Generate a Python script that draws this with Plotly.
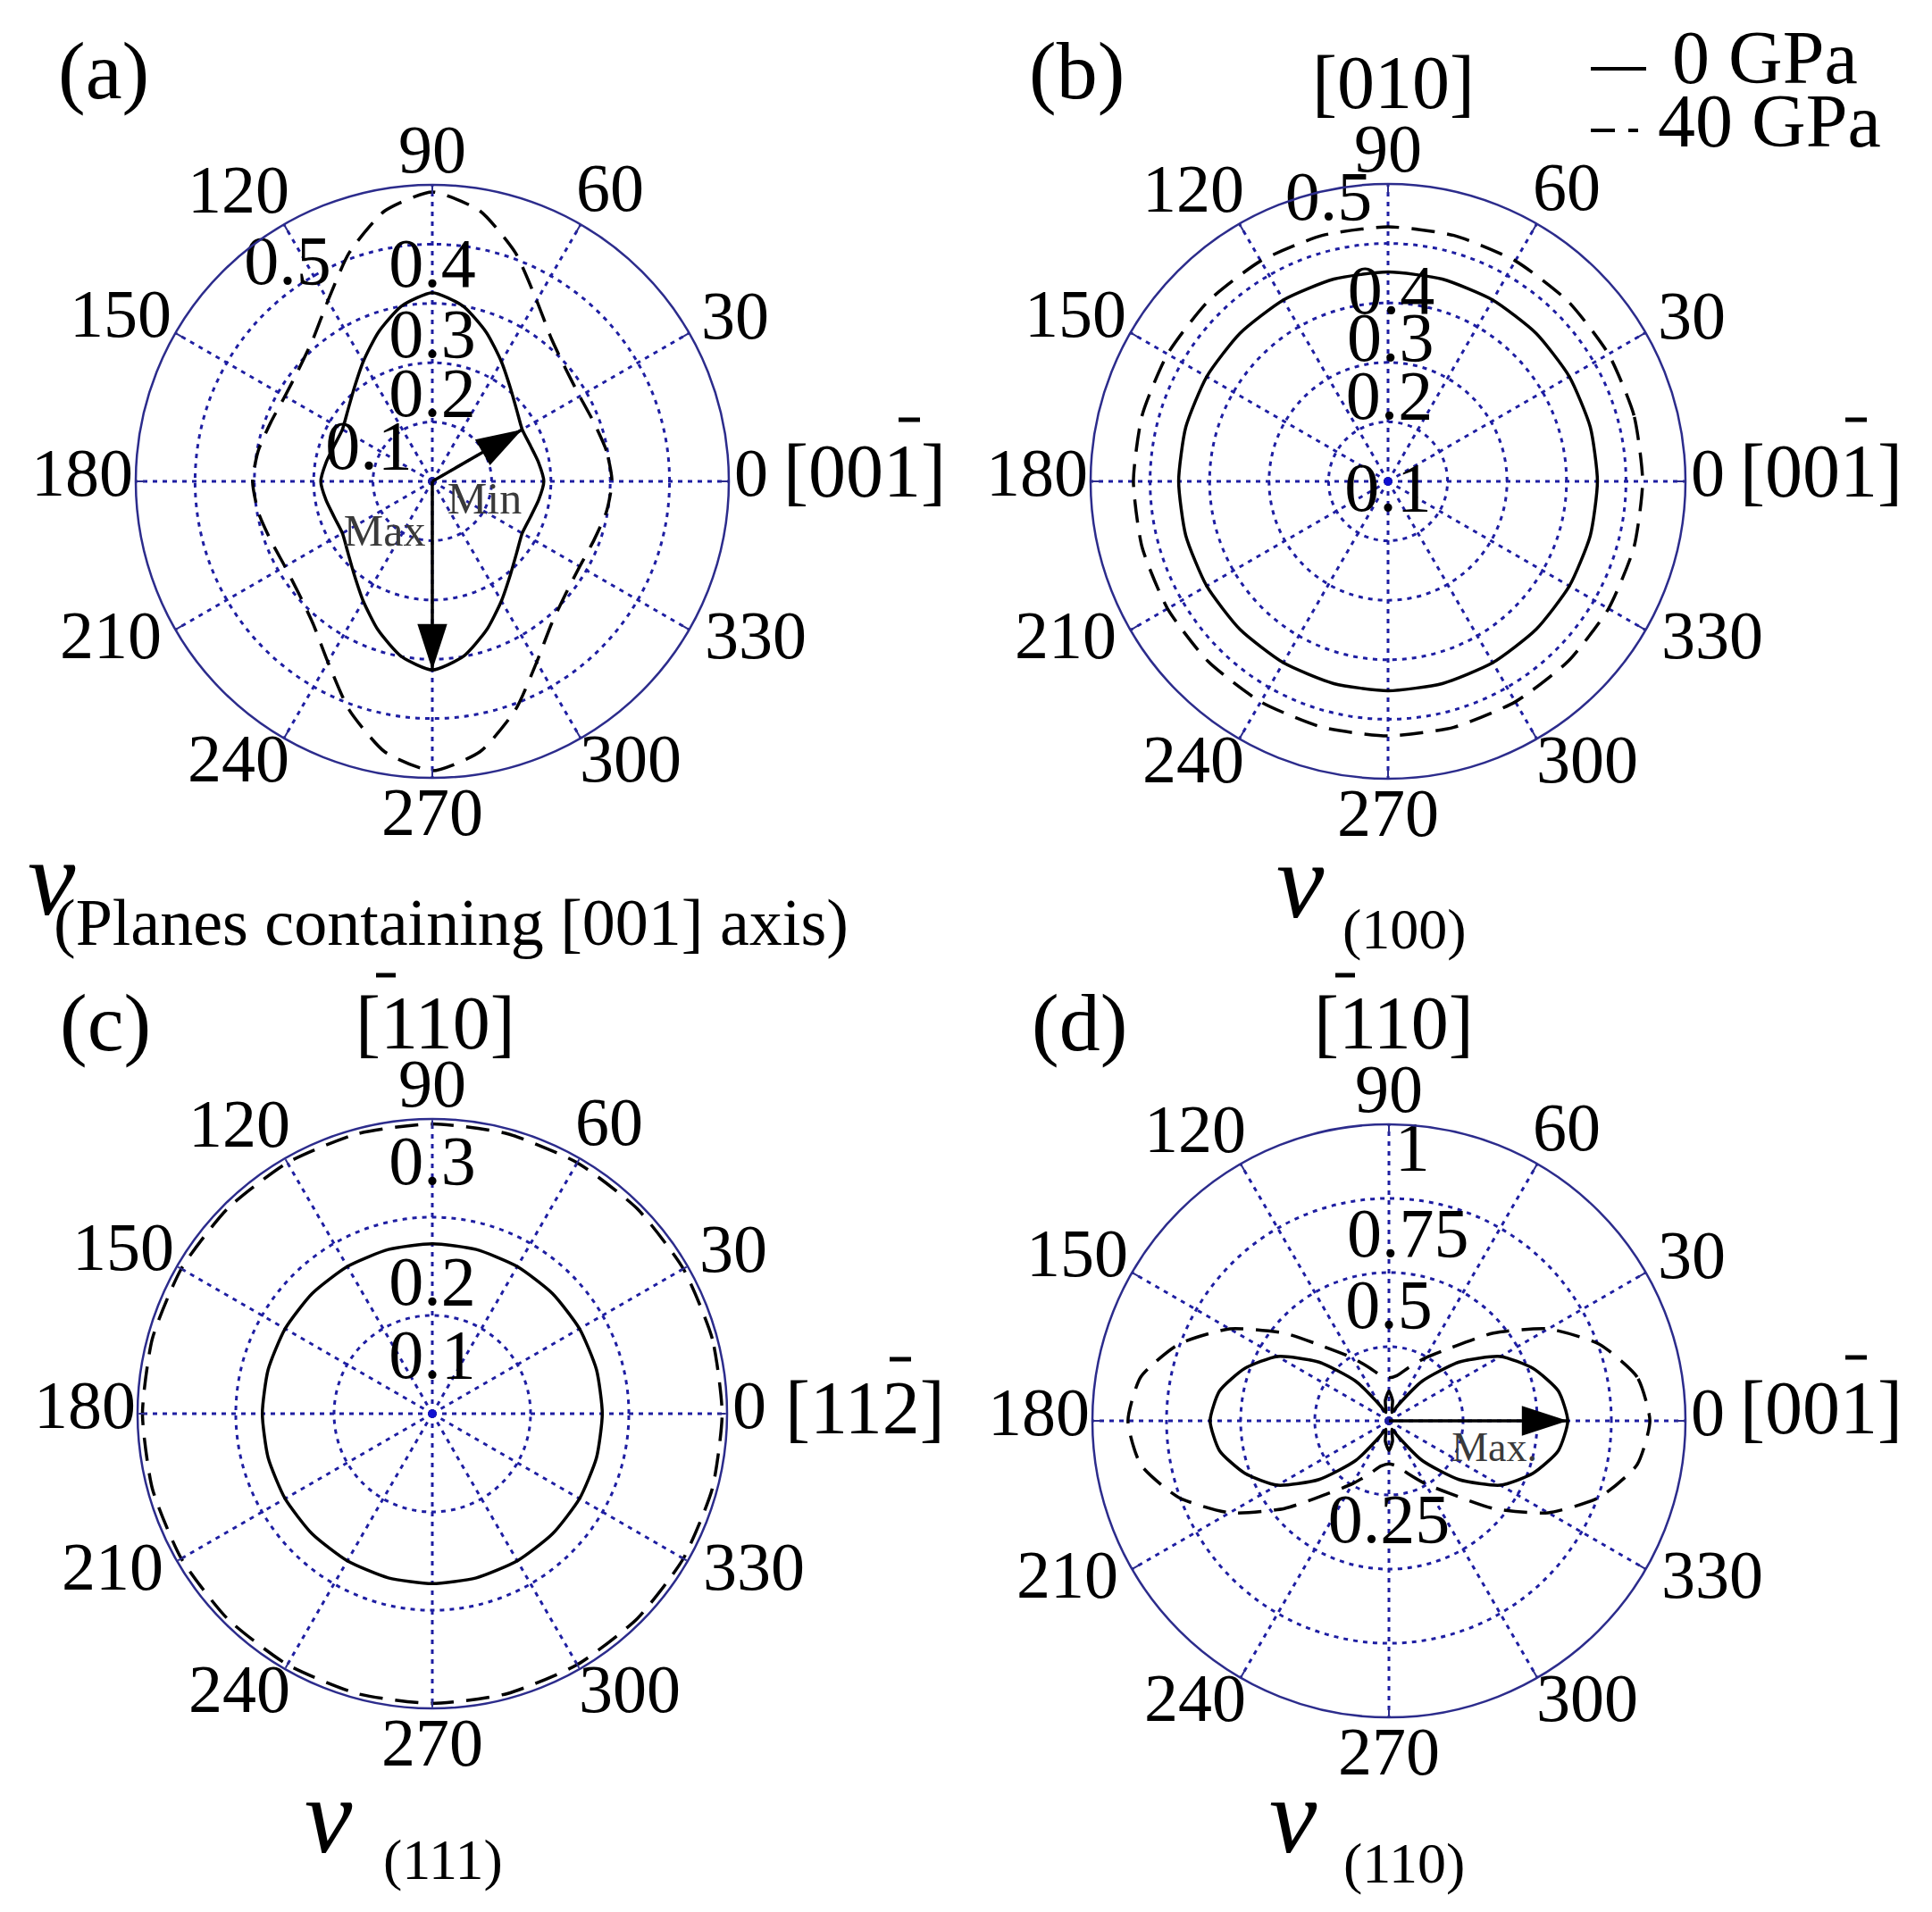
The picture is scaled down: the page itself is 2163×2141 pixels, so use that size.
import plotly.graph_objects as go

W, H = 2163, 2141
SERIF = "Liberation Serif"
GRID = "#1e1ea2"
RIM = "#2c2c8c"

# angular ticks (deg) and MATLAB-style label offsets from the centre (multiples of rim radius)
angle_ticks = [0, 30, 60, 90, 120, 150, 180, 210, 240, 270, 300, 330]
angle_text = ["0", "30", "60", "90", "120", "150", "180", "210", "240", "270", "300", "330"]
angle_label_dx = [1.075, 1.02, 0.60, 0.0, -0.655, -1.05, -1.18, -1.085, -0.655, 0.0, 0.67, 1.09]
angle_label_dy = [0.0, 0.53, 0.96, 1.09, 0.955, 0.535, 0.0, -0.547, -0.963, -1.145, -0.963, -0.547]

theta10 = [0, 10, 20, 30, 40, 50, 60, 70, 80, 90, 100, 110, 120, 130, 140, 150, 160, 170, 180,
           190, 200, 210, 220, 230, 240, 250, 260, 270, 280, 290, 300, 310, 320, 330, 340, 350, 360]
theta15 = [0, 15, 30, 45, 60, 75, 90, 105, 120, 135, 150, 165, 180,
           195, 210, 225, 240, 255, 270, 285, 300, 315, 330, 345, 360]

# (a) planes containing [001] axis
nu_a_0gpa = [0.188, 0.182, 0.176, 0.175, 0.186, 0.205, 0.233, 0.267, 0.300, 0.318,
             0.300, 0.267, 0.233, 0.205, 0.186, 0.175, 0.176, 0.182, 0.188,
             0.182, 0.176, 0.175, 0.186, 0.205, 0.233, 0.267, 0.300, 0.318,
             0.300, 0.267, 0.233, 0.205, 0.186, 0.175, 0.176, 0.182, 0.188]
nu_a_40gpa = [0.303, 0.298, 0.290, 0.287, 0.294, 0.313, 0.352, 0.410, 0.463, 0.488,
              0.463, 0.410, 0.352, 0.313, 0.294, 0.287, 0.290, 0.298, 0.303,
              0.298, 0.290, 0.287, 0.294, 0.313, 0.352, 0.410, 0.463, 0.488,
              0.463, 0.410, 0.352, 0.313, 0.294, 0.287, 0.290, 0.298, 0.303]

# (b) (100) plane
nu_b_0gpa = [0.352, 0.352, 0.352, 0.352, 0.352, 0.352, 0.352, 0.352, 0.352, 0.352, 0.352, 0.352, 0.352,
             0.352, 0.352, 0.352, 0.352, 0.352, 0.352, 0.352, 0.352, 0.352, 0.352, 0.352, 0.352]
nu_b_40gpa = [0.428, 0.428, 0.428, 0.428, 0.428, 0.428, 0.428, 0.428, 0.428, 0.428, 0.428, 0.428, 0.428,
              0.428, 0.428, 0.428, 0.428, 0.428, 0.428, 0.428, 0.428, 0.428, 0.428, 0.428, 0.428]

# (c) (111) plane
nu_c_0gpa = [0.173, 0.173, 0.173, 0.173, 0.173, 0.173, 0.173, 0.173, 0.173, 0.173, 0.173, 0.173, 0.173,
             0.173, 0.173, 0.173, 0.173, 0.173, 0.173, 0.173, 0.173, 0.173, 0.173, 0.173, 0.173]
nu_c_40gpa = [0.295, 0.295, 0.295, 0.295, 0.295, 0.295, 0.295, 0.295, 0.295, 0.295, 0.295, 0.295, 0.295,
              0.295, 0.295, 0.295, 0.295, 0.295, 0.295, 0.295, 0.295, 0.295, 0.295, 0.295, 0.295]

# (d) (110) plane
nu_d_0gpa = [0.603, 0.580, 0.517, 0.434, 0.308, 0.175, 0.060, 0.030, 0.070, 0.100,
             0.070, 0.030, 0.060, 0.175, 0.308, 0.434, 0.517, 0.580, 0.603,
             0.580, 0.517, 0.434, 0.308, 0.175, 0.060, 0.030, 0.070, 0.100,
             0.070, 0.030, 0.060, 0.175, 0.308, 0.434, 0.517, 0.580, 0.603]
nu_d_40gpa = [0.880, 0.850, 0.755, 0.620, 0.460, 0.320, 0.245, 0.190, 0.155, 0.145,
              0.155, 0.190, 0.245, 0.320, 0.460, 0.620, 0.755, 0.850, 0.880,
              0.850, 0.755, 0.620, 0.460, 0.320, 0.245, 0.190, 0.155, 0.145,
              0.155, 0.190, 0.245, 0.320, 0.460, 0.620, 0.755, 0.850, 0.880]

# radial tick labels (text, r, theta) per panel
rlab_a = ["0.1", "0.2", "0.3", "0.4", "0.5"]
rlab_a_r = [0.118, 0.139, 0.238, 0.357, 0.436]
rlab_a_t = [155, 90, 90, 90, 124]
rlab_b = ["0.1", "0.2", "0.3", "0.4", "0.5"]
rlab_b_r = [0.02, 0.135, 0.232, 0.311, 0.48]
rlab_b_t = [270, 89, 89, 89, 102]
rlab_c = ["0.1", "0.2", "0.3"]
rlab_c_r = [0.054, 0.129, 0.251]
rlab_c_t = [90, 90, 90]
rlab_d = ["0.25", "0.5", "0.75", "1"]
rlab_d_r = [0.35, 0.372, 0.615, 0.91]
rlab_d_t = [270, 90, 84, 85]

# extreme-value arrows (r at tip, direction)
arrow_a_min = (0.175, 30)
arrow_a_max = (0.318, 270)
arrow_d_max = (0.603, 0)

# panel geometry in pixels: centre x, centre y, radius, rmax, rings
panels = {
    "polar":  (476, 531, 332, 0.5, [0.1, 0.2, 0.3, 0.4]),
    "polar2": (1546, 531, 333, 0.5, [0.1, 0.2, 0.3, 0.4]),
    "polar3": (476, 1575, 330, 0.3, [0.1, 0.2]),
    "polar4": (1547, 1583, 332, 1.0, [0.25, 0.5, 0.75]),
}


def px(x, y):
    return x / W, 1 - y / H


def polar_layout(cx, cy, rad, rmax, rings):
    return dict(
        domain=dict(x=[(cx - rad) / W, (cx + rad) / W],
                    y=[1 - (cy + rad) / H, 1 - (cy - rad) / H]),
        bgcolor="white",
        radialaxis=dict(range=[0, rmax], tickvals=rings, showticklabels=False,
                        ticks="", showline=False, gridcolor=GRID, gridwidth=2.5,
                        griddash="5px,6px", angle=90),
        angularaxis=dict(rotation=0, direction="counterclockwise",
                         tickmode="array", tickvals=angle_ticks, showticklabels=False,
                         showline=True, linecolor=RIM, linewidth=2.5,
                         gridcolor=GRID, gridwidth=2.5, griddash="5px,6px",
                         ticks="inside", ticklen=9, tickwidth=2, tickcolor=RIM),
    )


fig = go.Figure()


def curve(r, theta, sub, dashed=False):
    fig.add_trace(go.Scatterpolar(
        r=r, theta=theta, mode="lines", subplot=sub, hoverinfo="skip",
        line=dict(color="black", width=3.5, shape="spline", smoothing=0.6,
                  dash="26px,14px" if dashed else "solid"),
    ))


def rlabels(text, r, theta, sub, size=78):
    fig.add_trace(go.Scatterpolar(
        r=r, theta=theta, text=text, mode="text", subplot=sub, cliponaxis=False,
        textfont=dict(family=SERIF, size=size, color="black"), hoverinfo="skip",
    ))


def arrow(tip, sub, angle):
    r, th = tip
    fig.add_trace(go.Scatterpolar(
        r=[0, r], theta=[th, th], mode="lines", subplot=sub, hoverinfo="skip",
        line=dict(color="black", width=3.5),
    ))
    fig.add_trace(go.Scatterpolar(
        r=[r], theta=[th], mode="markers", subplot=sub, cliponaxis=False, hoverinfo="skip",
        marker=dict(symbol="arrow", size=54, angle=angle, color="black"),
    ))


def note(text, r, theta, sub, size=50):
    fig.add_trace(go.Scatterpolar(
        r=[r], theta=[theta], text=[text], mode="text", subplot=sub, hoverinfo="skip",
        textfont=dict(family=SERIF, size=size, color="#3a3a3a"),
    ))


# (a)
curve(nu_a_0gpa, theta10, "polar")
curve(nu_a_40gpa, theta10, "polar", dashed=True)
rlabels(rlab_a, rlab_a_r, rlab_a_t, "polar")
arrow(arrow_a_min, "polar", 60)
arrow(arrow_a_max, "polar", 180)
note("Min", 0.095, -22, "polar")
note("Max", 0.12, 228, "polar")

# (b)
curve(nu_b_0gpa, theta15, "polar2")
curve(nu_b_40gpa, theta15, "polar2", dashed=True)
rlabels(rlab_b, rlab_b_r, rlab_b_t, "polar2")

# (c)
curve(nu_c_0gpa, theta15, "polar3")
curve(nu_c_40gpa, theta15, "polar3", dashed=True)
rlabels(rlab_c, rlab_c_r, rlab_c_t, "polar3")

# (d)
curve(nu_d_0gpa, theta10, "polar4")
curve(nu_d_40gpa, theta10, "polar4", dashed=True)
rlabels(rlab_d, rlab_d_r, rlab_d_t, "polar4")
arrow(arrow_d_max, "polar4", 90)
note("Max.", 0.37, -16, "polar4", size=46)

# blue centre dots
for sub in ["polar2", "polar3"]:
    fig.add_trace(go.Scatterpolar(r=[0], theta=[0], mode="markers", subplot=sub,
                                  marker=dict(color="#1010d0", size=9), hoverinfo="skip"))

annotations = []
shapes = []


def label(text, x, y, size, xanchor="center", italic=False):
    xp, yp = px(x, y)
    if italic:
        text = "<i>" + text + "</i>"
    annotations.append(dict(text=text, x=xp, y=yp, xref="paper", yref="paper",
                            xanchor=xanchor, yanchor="middle", showarrow=False,
                            font=dict(family=SERIF, size=size, color="black")))


def bar(x0, x1, y, width=5):
    a0, b0 = px(x0, y)
    a1, _ = px(x1, y)
    shapes.append(dict(type="line", xref="paper", yref="paper", x0=a0, x1=a1, y0=b0, y1=b0,
                       line=dict(color="black", width=width)))


# angle labels just outside each rim (MATLAB polar style)
for name, (cx, cy, rad, rmax, rings) in panels.items():
    for txt, fx, fy in zip(angle_text, angle_label_dx, angle_label_dy):
        label(txt, cx + fx * rad, cy - fy * rad - 10, 76)

# panel letters
label("(a)", 108, 71, 92)
label("(b)", 1197, 71, 92)
label("(c)", 110, 1137, 92)
label("(d)", 1200, 1137, 92)

# direction labels
label("[001]", 960, 519, 84)
bar(998, 1022, 462)
label("[010]", 1552, 85, 84)
label("[001]", 2031, 519, 84)
bar(2058, 2082, 462)
label("[110]", 479, 1137, 84)
bar(413, 435, 1084)
label("[112]", 960, 1568, 84)
bar(988, 1012, 1514)
label("[110]", 1552, 1137, 84)
bar(1487, 1509, 1084)
label("[001]", 2031, 1568, 84)
bar(2058, 2082, 1512)

# axis captions
label("ν", 50, 975, 120, italic=True)
label("(Planes containing [001] axis)", 497, 1025, 74)
label("ν", 1448, 978, 120, italic=True)
label("(100)", 1564, 1032, 64)
label("ν", 360, 2025, 120, italic=True)
label("(111)", 488, 2074, 64)
label("ν", 1440, 2025, 120, italic=True)
label("(110)", 1564, 2078, 64)

# legend
bar(1773, 1835, 69, width=4)
label("0 GPa", 1862, 57, 84, xanchor="left")
bar(1773, 1800, 138, width=4)
bar(1815, 1826, 138, width=4)
label("40 GPa", 1846, 128, 84, xanchor="left")

layout = dict(
    width=W, height=H, margin=dict(l=0, r=0, t=0, b=0),
    paper_bgcolor="white", plot_bgcolor="white", showlegend=False,
    annotations=annotations, shapes=shapes,
)
for name, (cx, cy, rad, rmax, rings) in panels.items():
    layout[name] = polar_layout(cx, cy, rad, rmax, rings)

fig.update_layout(**layout)
fig.write_html("out.html")
